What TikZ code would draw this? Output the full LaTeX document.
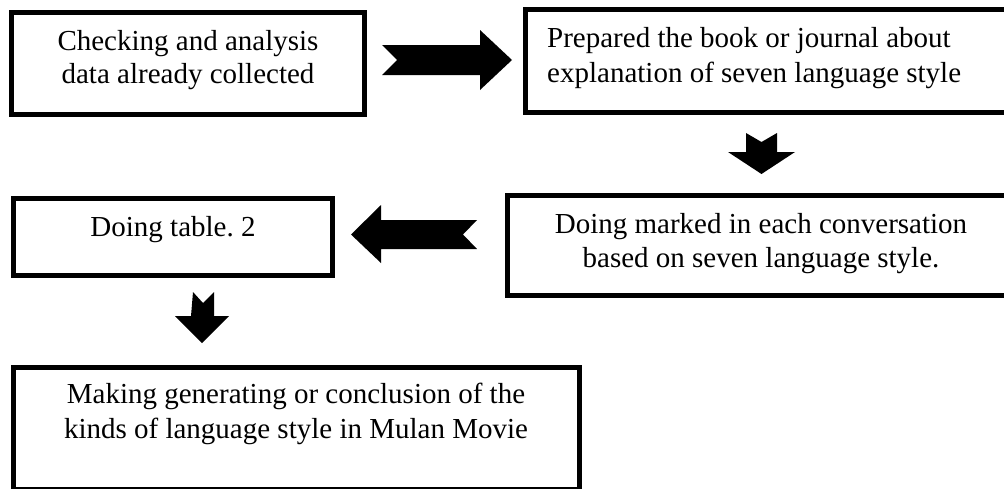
\documentclass[tikz,border=0pt]{standalone}
\usepackage{fontspec}
\setmainfont{Liberation Serif}
\frenchspacing
\begin{document}
\begin{tikzpicture}[x=1pt,y=-1pt,
  box/.style={draw=black, line width=5pt, inner sep=0pt, outer sep=0pt},
  txt/.style={font=\fontsize{29}{35}\selectfont\frenchspacing, inner sep=0pt, anchor=base},
  txtl/.style={txt, anchor=base west},
  blockarrow/.style={fill=black, draw=none}]
\useasboundingbox (0,0) rectangle (1004,488);
\clip (0,0) rectangle (1004,488);
% boxes
\node[box, minimum width=353pt, minimum height=102pt] (b1) at (188,63.5) {};
\node[box, minimum width=490pt, minimum height=102.5pt] (b2) at (770,60.75) {};
\node[box, minimum width=507.5pt, minimum height=100pt] (b3) at (761.25,245) {};
\node[box, minimum width=319.5pt, minimum height=77.5pt] (b4) at (172.75,236.75) {};
\node[box, minimum width=566.5pt, minimum height=122pt] (b5) at (296.25,428.5) {};
% texts
\node[txt] (t1a) at (188,50) {Checking and analysis};
\node[txt] (t1b) at (188,83.5) {data already collected};
\node[txtl] (t2a) at (547,47) {Prepared the book or journal about};
\node[txtl] (t2b) at (547,82) {explanation of seven language style};
\node[txt] (t3a) at (761,233) {Doing marked in each conversation};
\node[txt] (t3b) at (761,267) {based on seven language style.};
\node[txt] (t4) at (173,236) {Doing table. 2};
\node[txt] (t5a) at (296,403) {Making generating or conclusion of the};
\node[txt] (t5b) at (296,438) {kinds of language style in Mulan Movie};
% block arrows
\fill[blockarrow] (382,45) -- (480,45) -- (480,30) -- (512,60) -- (480,90) -- (480,75) -- (382,75) -- (397,60) -- cycle;
\fill[blockarrow] (746,133) -- (761.5,142) -- (777,133) -- (777,152) -- (795,152) -- (761.5,174) -- (728,152) -- (746,152) -- cycle;
\fill[blockarrow] (477,220) -- (381,220) -- (381,205) -- (351,234.5) -- (381,263) -- (381,249) -- (477,249) -- (463,234.5) -- cycle;
\fill[blockarrow] (193,292) -- (203,303) -- (214,292) -- (214,316) -- (229,316) -- (202,343) -- (175,316) -- (191,316) -- cycle;
\end{tikzpicture}
\end{document}
